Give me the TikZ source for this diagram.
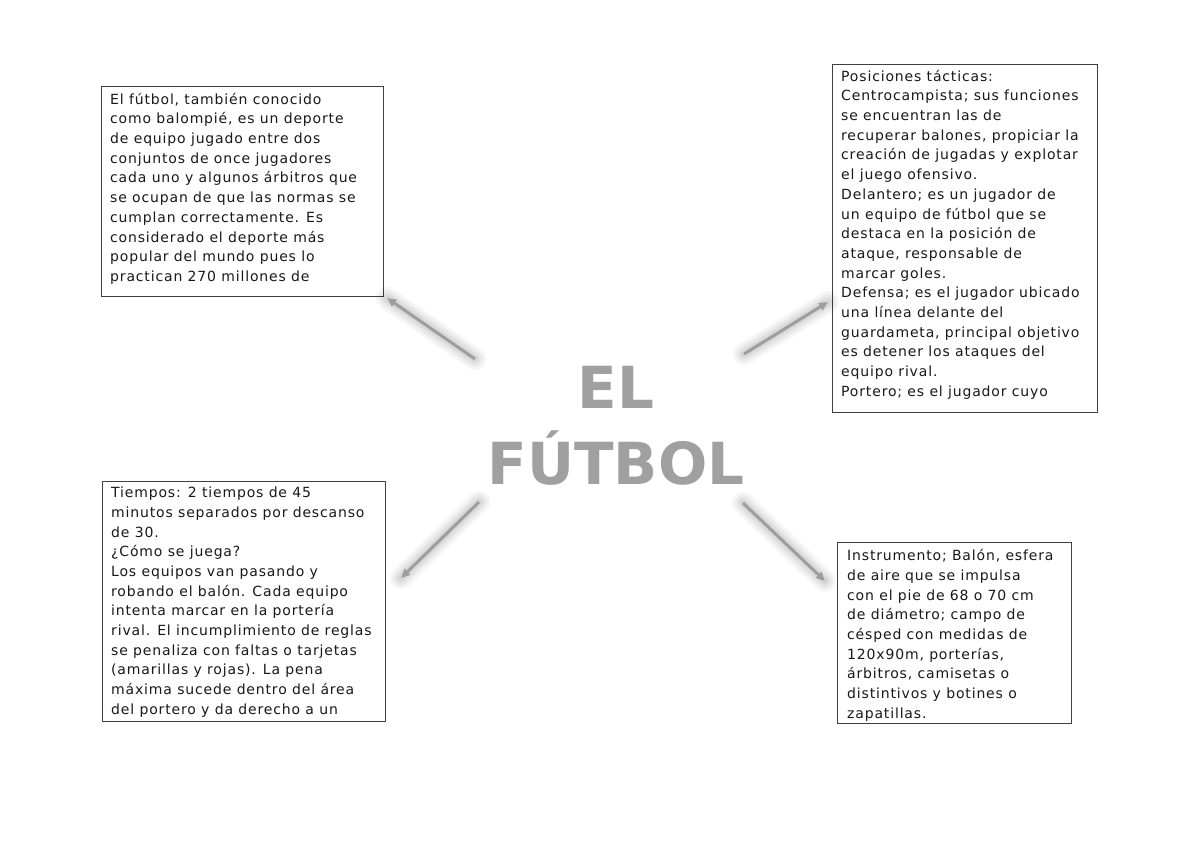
\documentclass[tikz,border=0pt]{standalone}
\usepackage{fontspec}
\setmainfont{DejaVu Sans}
\newfontfamily\boxfont{DejaVu Sans}[LetterSpace=6]
\usetikzlibrary{arrows.meta}
\definecolor{titlegray}{RGB}{160,160,160}
\definecolor{arrowgray}{RGB}{158,158,158}

\begin{document}
\begin{tikzpicture}[x=1pt,y=-1pt,
    panel/.style={draw=black!75,line width=0.8pt,anchor=north west,inner sep=0pt},
    paneltext/.style={anchor=north west,inner sep=0pt,align=left,text=black!90,
      font=\boxfont\fontsize{14pt}{19.7pt}\selectfont},
    link/.style={draw=arrowgray,line width=3pt,-{Triangle[length=9pt,width=8pt]}},
    glow/.style={draw=black,line width=#1,opacity=0.04,line cap=round}]
  \useasboundingbox[fill=white] (0,0) rectangle (1200,849);

  \node[panel,minimum width=282pt,minimum height=210pt] (intro) at (101,86) {};
  \node[panel,minimum width=265pt,minimum height=348pt] (pos) at (832,64) {};
  \node[panel,minimum width=283pt,minimum height=240pt] (time) at (102,481) {};
  \node[panel,minimum width=234pt,minimum height=181pt] (gear) at (837,542) {};

  \begin{scope}
    \clip (intro.north west) rectangle (intro.south east);
    \node[paneltext] (introtext) at (110,90.2) {\strut El fútbol, también conocido\\
      como balompié, es un deporte\\
      de equipo jugado entre dos\\
      conjuntos de once jugadores\\
      cada uno y algunos árbitros que\\
      se ocupan de que las normas se\\
      cumplan correctamente. Es\\
      considerado el deporte más\\
      popular del mundo pues lo\\
      practican 270 millones de};
  \end{scope}

  \begin{scope}
    \clip (pos.north west) rectangle (pos.south east);
    \node[paneltext] (postext) at (841,67.2) {\strut Posiciones tácticas:\\
      Centrocampista; sus funciones\\
      se encuentran las de\\
      recuperar balones, propiciar la\\
      creación de jugadas y explotar\\
      el juego ofensivo.\\
      Delantero; es un jugador de\\
      un equipo de fútbol que se\\
      destaca en la posición de\\
      ataque, responsable de\\
      marcar goles.\\
      Defensa; es el jugador ubicado\\
      una línea delante del\\
      guardameta, principal objetivo\\
      es detener los ataques del\\
      equipo rival.\\
      Portero; es el jugador cuyo};
  \end{scope}

  \begin{scope}
    \clip (time.north west) rectangle (time.south east);
    \node[paneltext] (timetext) at (111,483.7) {\strut Tiempos: 2 tiempos de 45\\
      minutos separados por descanso\\
      de 30.\\
      ¿Cómo se juega?\\
      Los equipos van pasando y\\
      robando el balón. Cada equipo\\
      intenta marcar en la portería\\
      rival. El incumplimiento de reglas\\
      se penaliza con faltas o tarjetas\\
      (amarillas y rojas). La pena\\
      máxima sucede dentro del área\\
      del portero y da derecho a un};
  \end{scope}

  \begin{scope}
    \clip (gear.north west) rectangle (gear.south east);
    \node[paneltext] (geartext) at (847,546.7) {\strut Instrumento; Balón, esfera\\
      de aire que se impulsa\\
      con el pie de 68 o 70 cm\\
      de diámetro; campo de\\
      césped con medidas de\\
      120x90m, porterías,\\
      árbitros, camisetas o\\
      distintivos y botines o\\
      zapatillas.};
  \end{scope}

  \node[anchor=north,inner sep=0pt,align=center,text=titlegray,
    font=\bfseries\fontsize{58pt}{71pt}\selectfont] (title) at (616,358.3) {\strut EL\\FÚTBOL};

  \coordinate (s-intro) at (475,359);
  \coordinate (e-intro) at (387,298);
  \coordinate (s-pos) at (744,354);
  \coordinate (e-pos) at (828,302);
  \coordinate (s-time) at (479,502);
  \coordinate (e-time) at (401,578);
  \coordinate (s-gear) at (743,503);
  \coordinate (e-gear) at (825,581);

  \foreach \s/\e in {s-intro/e-intro,s-pos/e-pos,s-time/e-time,s-gear/e-gear}{
    \foreach \w in {22,16,11,7}
      \draw[glow=\w pt,shift={(1,2)}] (\s) -- (\e);
    \draw[link] (\s) -- (\e);
  }
\end{tikzpicture}
\end{document}
